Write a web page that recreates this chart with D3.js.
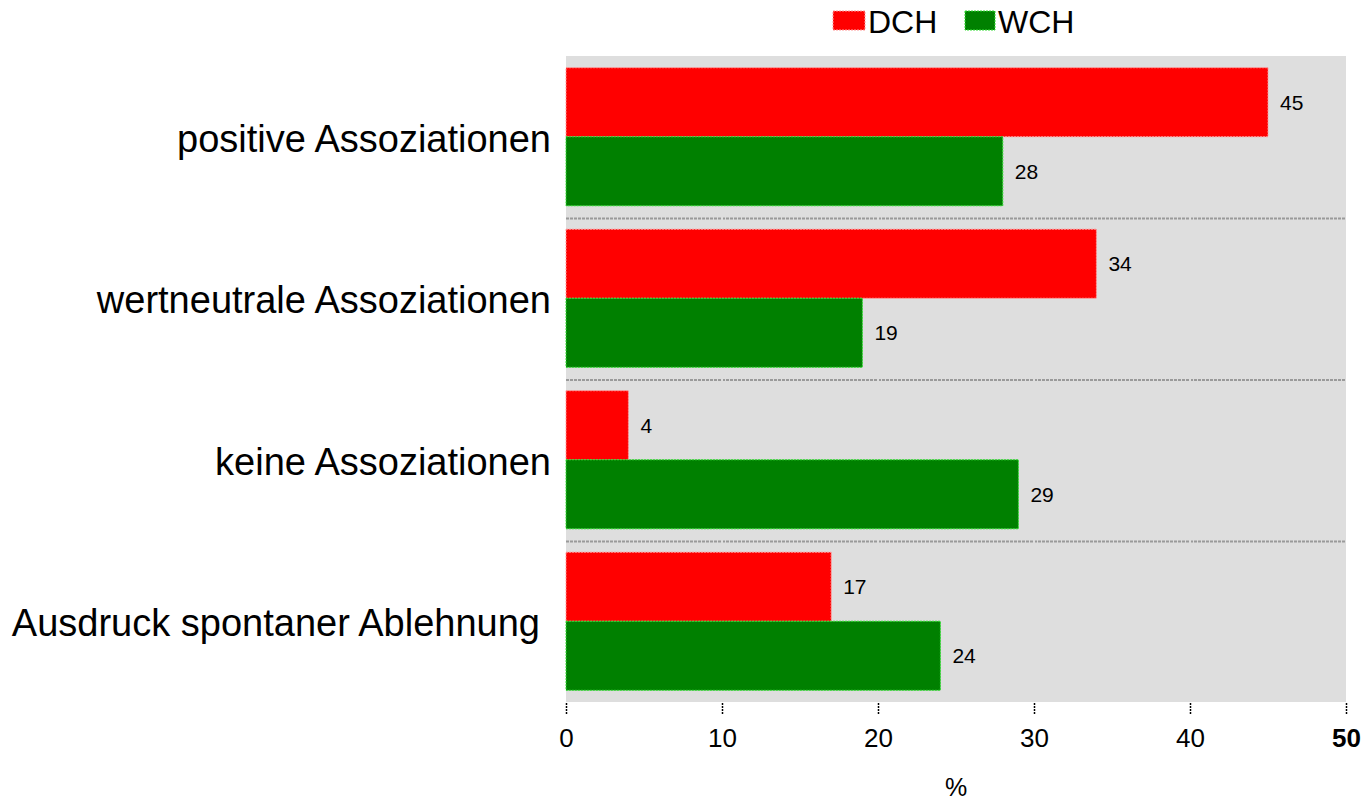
<!DOCTYPE html>
<meta charset="utf-8">
<style>
body { margin: 0; background: #fff; }
text { font-family: "Liberation Sans", Arial, sans-serif; fill: #000; }
</style>
<body>
<script src="https://d3js.org/d3.v7.min.js"></script>
<script>

var categories = ["positive Assoziationen", "wertneutrale Assoziationen", "keine Assoziationen", "Ausdruck spontaner Ablehnung"];
var seriesNames = ["DCH", "WCH"];
var dchValues = [45, 34, 4, 17];
var wchValues = [28, 19, 29, 24];
var xTicks = [0, 10, 20, 30, 40, 50];

var colors = { DCH: "#ff0000", WCH: "#008000" };
var borders = { DCH: "#ff9a9a", WCH: "#33dd33" };

var width = 1361, height = 801;
var margin = { left: 566, right: 15, top: 56, bottom: 99 };

var svg = d3.select("body").append("svg")
    .attr("width", width)
    .attr("height", height);

var x = d3.scaleLinear().domain([0, 50]).range([margin.left, width - margin.right]);
var y = d3.scaleBand().domain(categories).range([margin.top, height - margin.bottom]).paddingInner(0.145).paddingOuter(0.0725);
var ySub = d3.scaleBand().domain(seriesNames).range([0, y.bandwidth()]);

// plot background
svg.append("rect")
    .attr("x", x(0)).attr("y", margin.top)
    .attr("width", x(50) - x(0)).attr("height", height - margin.bottom - margin.top)
    .attr("fill", "#dedede");

// separators between categories
var step = y.step();
categories.slice(1).forEach(function(c) {
  var yy = y(c) - (step - y.bandwidth()) / 2 + 1;
  svg.append("line")
     .attr("x1", x(0)).attr("x2", x(50))
     .attr("y1", yy).attr("y2", yy)
     .attr("stroke", "#9a9a9a").attr("stroke-width", 2)
     .attr("stroke-dasharray", "3,1");
});

// vertical gridlines in background colour (break the separators)
svg.selectAll(".vgrid")
   .data(xTicks.slice(1, -1))
   .enter().append("line")
   .attr("x1", function(d) { return x(d); }).attr("x2", function(d) { return x(d); })
   .attr("y1", margin.top).attr("y2", height - margin.bottom)
   .attr("stroke", "#dedede").attr("stroke-width", 2);

var rows = categories.map(function(c, i) {
  return { cat: c, vals: [{ s: "DCH", v: dchValues[i] }, { s: "WCH", v: wchValues[i] }] };
});

var g = svg.selectAll(".row").data(rows).enter().append("g")
    .attr("transform", function(d) { return "translate(0," + y(d.cat) + ")"; });

g.selectAll("rect").data(function(d) { return d.vals; }).enter().append("rect")
    .attr("x", x(0))
    .attr("y", function(d) { return ySub(d.s); })
    .attr("width", function(d) { return x(d.v) - x(0); })
    .attr("height", ySub.bandwidth())
    .attr("fill", function(d) { return colors[d.s]; })
    .attr("stroke", function(d) { return borders[d.s]; })
    .attr("stroke-width", 1)
    .attr("stroke-dasharray", "2,1");

g.selectAll(".val").data(function(d) { return d.vals; }).enter().append("text")
    .attr("x", function(d) { return x(d.v) + 12; })
    .attr("y", function(d) { return ySub(d.s) + ySub.bandwidth() / 2; })
    .attr("dy", "0.35em")
    .attr("font-size", 21)
    .text(function(d) { return d.v; });

// category labels
svg.selectAll(".cat").data(categories).enter().append("text")
    .attr("x", function(d, i) { return i === 3 ? 540 : 551; })
    .attr("y", function(d) { return y(d) + y.bandwidth() / 2; })
    .attr("dy", "0.4em")
    .attr("text-anchor", "end")
    .attr("font-size", 38)
    .text(function(d) { return d; });

// x axis
var axisY = height - margin.bottom;
var axis = svg.append("g").attr("transform", "translate(0," + axisY + ")")
    .call(d3.axisBottom(x).tickValues(xTicks).tickSize(0).tickPadding(0));
axis.select(".domain").remove();
axis.selectAll(".tick text").remove();
axis.selectAll(".tick").append("line")
    .attr("y1", 1).attr("y2", 13)
    .attr("stroke", "#000").attr("stroke-width", 1.5)
    .attr("stroke-dasharray", "2,1");
axis.selectAll(".tick").append("text")
    .attr("y", 36)
    .attr("dy", "0.35em")
    .attr("text-anchor", "middle")
    .attr("font-size", 26)
    .attr("font-weight", function(d) { return d === 50 ? "bold" : "normal"; })
    .attr("fill", "#000")
    .text(function(d) { return d; });

svg.append("text")
    .attr("x", (x(0) + x(50)) / 2)
    .attr("y", 787)
    .attr("dy", "0.35em")
    .attr("text-anchor", "middle")
    .attr("font-size", 25)
    .text("%");

// legend
var legendX = [833, 965];
var leg = svg.selectAll(".leg").data(seriesNames).enter().append("g")
    .attr("transform", function(d, i) { return "translate(" + legendX[i] + ",11)"; });
leg.append("rect")
    .attr("width", function(d, i) { return i === 0 ? 32 : 30; })
    .attr("height", 19)
    .attr("fill", function(d) { return colors[d]; })
    .attr("stroke", function(d) { return borders[d]; })
    .attr("stroke-dasharray", "2,1");
leg.append("text")
    .attr("x", function(d, i) { return i === 0 ? 35 : 33; })
    .attr("y", 11)
    .attr("dy", "0.35em")
    .attr("font-size", 32)
    .text(function(d) { return d; });

</script>
</body>
</html>
